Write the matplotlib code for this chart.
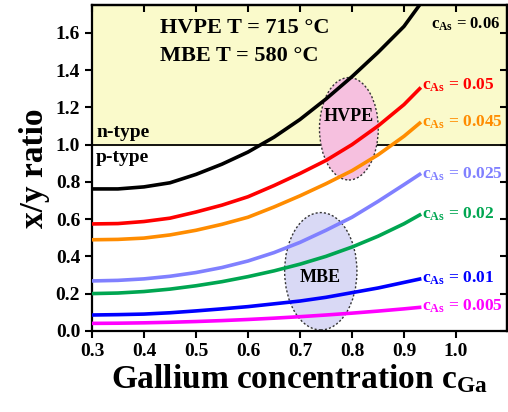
import numpy as np
import matplotlib
matplotlib.use("Agg")
import matplotlib.pyplot as plt
from matplotlib.patches import Ellipse

# SETTINGS
plt.rcParams["font.family"] = ["Liberation Serif", "DejaVu Serif"]
plt.rcParams["font.weight"] = "bold"
plt.rcParams["mathtext.fontset"] = "custom"
plt.rcParams["mathtext.rm"] = "Liberation Serif:bold"
plt.rcParams["mathtext.it"] = "Liberation Serif:bold"
plt.rcParams["mathtext.bf"] = "Liberation Serif:bold"

# Data
c_ga = [0.30, 0.35, 0.40, 0.45, 0.50, 0.55, 0.60, 0.65, 0.70, 0.75, 0.80, 0.85, 0.90, 0.93]

ratio_006 = [0.762, 0.762, 0.773, 0.795, 0.84, 0.895, 0.96, 1.04, 1.135, 1.245, 1.365, 1.495, 1.635, 1.75]
ratio_005 = [0.574, 0.576, 0.587, 0.605, 0.638, 0.675, 0.72, 0.78, 0.845, 0.915, 1.0, 1.10, 1.215, 1.30]
ratio_0045 = [0.489, 0.491, 0.498, 0.515, 0.54, 0.572, 0.61, 0.665, 0.725, 0.79, 0.86, 0.945, 1.045, 1.115]
ratio_0025 = [0.268, 0.271, 0.279, 0.293, 0.313, 0.34, 0.375, 0.42, 0.475, 0.54, 0.61, 0.695, 0.785, 0.84]
ratio_002 = [0.20, 0.203, 0.211, 0.224, 0.242, 0.264, 0.291, 0.322, 0.358, 0.40, 0.45, 0.508, 0.575, 0.622]
ratio_001 = [0.085, 0.087, 0.09, 0.097, 0.107, 0.118, 0.13, 0.145, 0.16, 0.18, 0.205, 0.23, 0.26, 0.278]
ratio_0005 = [0.04, 0.041, 0.043, 0.046, 0.05, 0.055, 0.061, 0.068, 0.076, 0.085, 0.095, 0.106, 0.118, 0.126]

series = [ratio_006, ratio_005, ratio_0045, ratio_0025, ratio_002, ratio_001, ratio_0005]
c_as_labels = ["0.06", "0.05", "0.045", "0.025", "0.02", "0.01", "0.005"]
colors = ["black", "#ff0000", "#ff8c00", "#8080ff", "#00a651", "#0000ff", "#ff00ff"]
label_y = [1.645, 1.32, 1.12, 0.84, 0.624, 0.28, 0.13]

fig = plt.figure(figsize=(5.08, 4.12), dpi=100)
ax = fig.add_axes([0.181, 0.197, 0.817, 0.791])

ax.set_xlim(0.3, 1.098)
ax.set_ylim(0.0, 1.75)

# n-type region
ax.axhspan(1.0, 1.75, color="#fafacb", zorder=0)
ax.axhline(1.0, color="black", lw=1.3, zorder=1)

# growth windows
ax.add_patch(Ellipse((0.794, 1.085), 0.113, 0.55, facecolor="#f6c0df",
                     edgecolor="#333333", ls=(0, (1.5, 1.5)), lw=1.0, zorder=2))
ax.add_patch(Ellipse((0.740, 0.32), 0.139, 0.63, facecolor="#d9d9f5",
                     edgecolor="#333333", ls=(0, (1.5, 1.5)), lw=1.0, zorder=2))

for ys, col, lab, ly in zip(series, colors, c_as_labels, label_y):
    ax.plot(c_ga, ys, color=col, lw=2.6, zorder=3, solid_joinstyle="round")
    ax.text(0.935 if lab != "0.06" else 0.952, ly, r"c$_{\rm As}$ = " + lab,
            color=col, fontsize=12.5 if lab != "0.06" else 12,
            fontweight="bold", va="center", ha="left", zorder=4)

ax.text(0.794, 1.15, "HVPE", fontsize=13, fontweight="bold", ha="center", va="center", zorder=4)
ax.text(0.738, 0.285, "MBE", fontsize=13, fontweight="bold", ha="center", va="center", zorder=4)
ax.text(0.308, 1.065, "n-type", fontsize=14, fontweight="bold", ha="left", va="center")
ax.text(0.308, 0.93, "p-type", fontsize=14, fontweight="bold", ha="left", va="center")

ax.text(0.43, 1.625, "HVPE T = 715 °C", fontsize=16, fontweight="bold", ha="left", va="center")
ax.text(0.43, 1.475, "MBE T = 580 °C", fontsize=16, fontweight="bold", ha="left", va="center")

ax.set_xticks([0.3, 0.4, 0.5, 0.6, 0.7, 0.8, 0.9, 1.0])
ax.set_yticks([0.0, 0.2, 0.4, 0.6, 0.8, 1.0, 1.2, 1.4, 1.6])
ax.xaxis.set_major_formatter(plt.FormatStrFormatter("%.1f"))
ax.yaxis.set_major_formatter(plt.FormatStrFormatter("%.1f"))
ax.tick_params(direction="out", length=5, width=1.5, labelsize=14)

top = ax.secondary_xaxis("top")
top.set_xticks([0.3, 0.4, 0.5, 0.6, 0.7, 0.8, 0.9, 1.0])
top.tick_params(direction="in", length=5, width=1.5, labeltop=False)
right = ax.secondary_yaxis("right")
right.set_yticks([0.0, 0.2, 0.4, 0.6, 0.8, 1.0, 1.2, 1.4, 1.6])
right.tick_params(direction="in", length=5, width=1.5, labelright=False)

for sp in list(ax.spines.values()) + [top.spines["top"], right.spines["right"]]:
    sp.set_linewidth(1.6)

ax.set_xlabel(r"Gallium concentration c$_{\rm Ga}$", fontsize=24, fontweight="bold", labelpad=2)
ax.set_ylabel("x/y ratio", fontsize=24, fontweight="bold", labelpad=4)

fig.savefig("out.png", dpi=100)
